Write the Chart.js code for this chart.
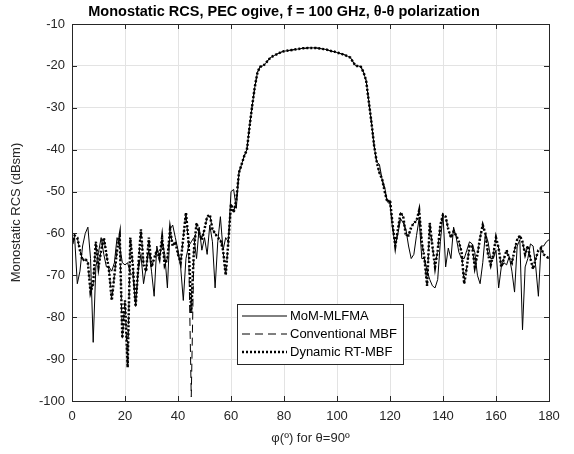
<!DOCTYPE html>
<html>
<head>
<meta charset="utf-8">
<title>Monostatic RCS</title>
<script src="https://cdn.jsdelivr.net/npm/chart.js@4.4.1/dist/chart.umd.min.js"></script>
<style>
  body { margin: 0; background: #fff; }
  #rcsChart { display: block; }
</style>
</head>
<body>
<canvas id="rcsChart" width="574" height="454"></canvas>
<script>
const phi = [0,1,2,3,4,5,6,7,8,9,10,11,12,13,14,15,16,17,18,19,20,21,22,23,24,25,26,27,28,29,
  30,31,32,33,34,35,36,37,38,39,40,41,42,43,44,45,46,47,48,49,50,51,52,53,54,55,56,57,58,59,
  60,61,62,63,64,65,66,67,68,69,70,71,72,73,74,75,76,77,78,79,80,81,82,83,84,85,86,87,88,89,
  90,91,92,93,94,95,96,97,98,99,100,101,102,103,104,105,106,107,108,109,110,111,112,113,114,115,116,117,118,119,
  120,121,122,123,124,125,126,127,128,129,130,131,132,133,134,135,136,137,138,139,140,141,142,143,144,145,146,147,148,149,
  150,151,152,153,154,155,156,157,158,159,160,161,162,163,164,165,166,167,168,169,170,171,172,173,174,175,176,177,178,179,180];

const momMlfma = [-63,-61,-72,-69,-63,-60,-58.5,-66,-86,-68,
  -64.5,-61,-65,-68,-68,-69,-67,-61,-63,-67,
  -67.5,-67,-69.5,-70,-77,-69,-65,-72,-68,-64,
  -69,-75,-63,-66,-62,-65,-73,-59,-58,-61,
  -64,-68,-76,-66,-63,-62,-61,-66,-58.5,-64,
  -61,-65,-58,-62,-73,-62,-56,-64,-61,-62,
  -50,-49.5,-54,-45.5,-43.5,-41.5,-40,-34.5,-29.5,-25,
  -21.5,-20.2,-20,-19.5,-18.6,-18,-17.6,-17.3,-17,-16.7,
  -16.5,-16.4,-16.3,-16.2,-16.1,-16,-15.9,-15.8,-15.8,-15.7,
  -15.7,-15.7,-15.7,-15.8,-15.9,-16,-16.1,-16.3,-16.5,-16.6,
  -16.8,-17,-17.2,-17.4,-17.7,-18,-19,-20,-20,-20.2,
  -21.5,-23.5,-28.5,-33.5,-39,-43,-43.5,-47,-49,-52.5,
  -53,-59,-63,-60,-56.5,-57.5,-59,-63,-66,-65,
  -60.5,-56.5,-66,-66,-69,-71,-72.5,-73,-71,-62,
  -55.5,-68,-63.5,-66,-58.5,-61,-64.5,-66,-66,-64,
  -62,-62.5,-64.5,-70,-72,-67,-60,-62,-66,-66,
  -64,-73,-68,-67,-67.5,-65.5,-69,-74,-63,-61.5,
  -83,-68,-66,-62.5,-63,-68,-75,-63,-63,-62,
  -61.5];

const conventionalMbf = [-62.5,-60.5,-61,-64,-66.5,-66,-67,-74,-72,-62,
  -68,-64,-61,-65,-69,-76,-70,-64,-60.5,-85,
  -76,-92,-61,-68,-77.5,-68,-59,-67.5,-69,-61,
  -68,-66,-64,-66,-61,-67.5,-66,-59,-63,-62,
  -65,-67,-61,-55,-63,-99,-64,-57.5,-60,-61.5,
  -59,-56,-55.5,-59,-60,-61,-61.5,-64,-70,-62,
  -53,-55,-52,-45.5,-43.5,-41.5,-40,-34.5,-29.5,-25,
  -21.5,-20.2,-20,-19.5,-18.6,-18,-17.6,-17.3,-17,-16.7,
  -16.5,-16.4,-16.3,-16.2,-16.1,-16,-15.9,-15.8,-15.8,-15.7,
  -15.7,-15.7,-15.7,-15.8,-15.9,-16,-16.1,-16.3,-16.5,-16.6,
  -16.8,-17,-17.2,-17.4,-17.7,-18,-19,-20,-20,-20.2,
  -21.5,-23.5,-28.5,-33.5,-39,-43,-45.5,-47,-50,-52.5,
  -52,-58,-63,-59,-55,-56,-60.5,-60.5,-58.5,-57.5,
  -57,-54.5,-62,-66,-72.5,-57.5,-63,-68,-64,-58,
  -55.5,-56,-59,-61,-59.5,-60.5,-62,-64.5,-72,-68,
  -63,-63,-68,-65,-61,-58,-60,-65,-67.5,-65,
  -61,-63.5,-68,-66,-64,-66,-67,-64,-61.5,-60.5,
  -62,-65,-63,-66,-68.5,-66,-64,-63.5,-65,-65.5,
  -66];

const dynamicRtMbf = [-62.5,-60.5,-61,-64,-66.5,-66,-67,-74,-72,-62,
  -68,-64,-61,-65,-69,-76,-70,-64,-60.5,-85,
  -76,-92,-61,-68,-77.5,-68,-59,-67.5,-69,-61,
  -68,-66,-64,-66,-61,-67.5,-66,-59,-63,-62,
  -65,-67,-61,-55,-62,-79,-64,-57.5,-60,-61.5,
  -59,-56,-55.5,-59,-60,-61,-61.5,-64,-70,-62,
  -53,-55,-52,-45.5,-43.5,-41.5,-40,-34.5,-29.5,-25,
  -21.5,-20.2,-20,-19.5,-18.6,-18,-17.6,-17.3,-17,-16.7,
  -16.5,-16.4,-16.3,-16.2,-16.1,-16,-15.9,-15.8,-15.8,-15.7,
  -15.7,-15.7,-15.7,-15.8,-15.9,-16,-16.1,-16.3,-16.5,-16.6,
  -16.8,-17,-17.2,-17.4,-17.7,-18,-19,-20,-20,-20.2,
  -21.5,-23.5,-28.5,-33.5,-39,-43,-45.5,-47,-50,-52.5,
  -52,-58,-63,-59,-55,-56,-60.5,-60.5,-58.5,-57.5,
  -57,-54.5,-62,-66,-72.5,-57.5,-63,-68,-64,-58,
  -55.5,-56,-59,-61,-59.5,-60.5,-62,-64.5,-72,-68,
  -63,-63,-68,-65,-61,-58,-60,-65,-67.5,-65,
  -61,-63.5,-68,-66,-64,-66,-67,-64,-61.5,-60.5,
  -62,-65,-63,-66,-68.5,-66,-64,-63.5,-65,-65.5,
  -66];

const xTicks = [0, 20, 40, 60, 80, 100, 120, 140, 160, 180];
const yTicks = [-100, -90, -80, -70, -60, -50, -40, -30, -20, -10];

const FONT = "'Liberation Sans', Arial, Helvetica, sans-serif";
const INK = "#262626";

function toPoints(values) {
  return phi.map(function (p, i) { return { x: p, y: values[i] }; });
}

// box round the axes plus the short inward ticks, matlab style
const axesFrame = {
  id: "axesFrame",
  afterLayout(chart) {
    // centre the title on the whole figure, not on the padded box
    if (chart.titleBlock) {
      chart.titleBlock.left = 0;
      chart.titleBlock.right = chart.width - 6;
    }
  },
  afterDatasetsDraw(chart) {
    const ctx = chart.ctx;
    const a = chart.chartArea;
    const xs = chart.scales.x, ys = chart.scales.y;
    const len = 5;
    ctx.save();
    ctx.strokeStyle = INK;
    ctx.lineWidth = 1;
    ctx.beginPath();
    xTicks.forEach(function (v) {
      const px = Math.round(xs.getPixelForValue(v)) + 0.5;
      ctx.moveTo(px, a.bottom); ctx.lineTo(px, a.bottom - len);
      ctx.moveTo(px, a.top); ctx.lineTo(px, a.top + len);
    });
    yTicks.forEach(function (v) {
      const py = Math.round(ys.getPixelForValue(v)) + 0.5;
      ctx.moveTo(a.left, py); ctx.lineTo(a.left + len, py);
      ctx.moveTo(a.right, py); ctx.lineTo(a.right - len, py);
    });
    ctx.stroke();
    ctx.strokeRect(Math.round(a.left) + 0.5, Math.round(a.top) + 0.5,
      Math.round(a.right - a.left), Math.round(a.bottom - a.top));
    ctx.restore();
  }
};

// legend inside the axes, bottom middle
const insideLegend = {
  id: "insideLegend",
  afterDraw(chart) {
    const ctx = chart.ctx;
    const bx = 237.5, by = 304.5, bw = 166, bh = 60;
    ctx.save();
    ctx.fillStyle = "#fff";
    ctx.fillRect(bx, by, bw, bh);
    ctx.strokeStyle = INK;
    ctx.lineWidth = 1;
    ctx.strokeRect(bx, by, bw, bh);
    ctx.font = "13px " + FONT;
    ctx.textBaseline = "middle";
    chart.data.datasets.forEach(function (ds, i) {
      const y = 316 + i * 18;
      ctx.strokeStyle = ds.borderColor;
      ctx.lineWidth = ds.borderWidth;
      ctx.setLineDash(ds.borderDash || []);
      ctx.beginPath();
      ctx.moveTo(242, y);
      ctx.lineTo(287, y);
      ctx.stroke();
      ctx.setLineDash([]);
      ctx.fillStyle = "#000";
      ctx.fillText(ds.label, 290, y);
    });
    ctx.restore();
  }
};

new Chart(document.getElementById("rcsChart"), {
  type: "line",
  data: {
    datasets: [
      {
        label: "MoM-MLFMA",
        data: toPoints(momMlfma),
        borderColor: "#000",
        borderWidth: 1,
        order: 3
      },
      {
        label: "Conventional MBF",
        data: toPoints(conventionalMbf),
        borderColor: "#000",
        borderWidth: 1,
        borderDash: [8, 5],
        order: 2
      },
      {
        label: "Dynamic RT-MBF",
        data: toPoints(dynamicRtMbf),
        borderColor: "#000",
        borderWidth: 2.5,
        borderDash: [2, 2],
        order: 1
      }
    ]
  },
  options: {
    responsive: false,
    animation: false,
    devicePixelRatio: 1,
    layout: { padding: { left: 0, right: 25, top: 0, bottom: 0 } },
    elements: {
      point: { radius: 0 },
      line: { tension: 0, fill: false, borderCapStyle: "butt" }
    },
    plugins: {
      legend: { display: false },
      tooltip: { enabled: false },
      title: {
        display: true,
        text: "Monostatic RCS, PEC ogive, f = 100 GHz, \u03b8-\u03b8 polarization",
        color: "#000",
        font: { family: FONT, size: 14.5, weight: "bold" },
        padding: { top: 3.5, bottom: 3.1 }
      }
    },
    scales: {
      x: {
        type: "linear",
        min: 0,
        max: 180,
        afterBuildTicks: function (s) { s.ticks = xTicks.map(function (v) { return { value: v }; }); },
        afterFit: function (s) { s.height = 53; },
        grid: { color: "#e3e3e3", drawTicks: false },
        border: { display: false },
        ticks: { color: INK, padding: 8, font: { family: FONT, size: 13 } },
        title: {
          display: true,
          text: "\u03c6(\u00ba) for \u03b8=90\u00ba",
          color: INK,
          font: { family: FONT, size: 13 },
          padding: { top: 0, bottom: 8 }
        }
      },
      y: {
        min: -100,
        max: -10,
        afterBuildTicks: function (s) { s.ticks = yTicks.map(function (v) { return { value: v }; }); },
        afterFit: function (s) { s.width = 72; },
        grid: { color: "#e3e3e3", drawTicks: false },
        border: { display: false },
        ticks: { color: INK, padding: 7, font: { family: FONT, size: 13 } },
        title: {
          display: true,
          text: "Monostatic RCS (dBsm)",
          color: INK,
          font: { family: FONT, size: 13 },
          padding: { top: 9, bottom: 0 }
        }
      }
    }
  },
  plugins: [axesFrame, insideLegend]
});
</script>
</body>
</html>
